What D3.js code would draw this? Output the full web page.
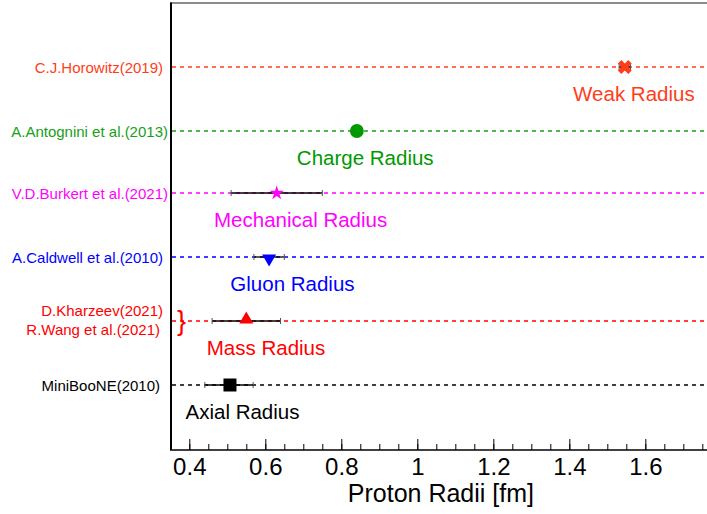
<!DOCTYPE html>
<html>
<head>
<meta charset="utf-8">
<script src="https://cdn.jsdelivr.net/npm/d3@7"></script>
<style>
  body { margin: 0; background: #fff; }
  svg { display: block; font-family: "Liberation Sans", Arial, sans-serif; }
</style>
</head>
<body>
<div id="chart"></div>
<script>
// measurements, top row first
var refLabels = [
    ["C.J.Horowitz(2019)"],
    ["A.Antognini et al.(2013)"],
    ["V.D.Burkert et al.(2021)"],
    ["A.Caldwell et al.(2010)"],
    ["D.Kharzeev(2021)", "R.Wang et al.(2021)"],
    ["MiniBooNE(2010)"]
];
var radiusNames = ["Weak Radius", "Charge Radius", "Mechanical Radius", "Gluon Radius", "Mass Radius", "Axial Radius"];
var radiusValues = [1.546, 0.8409, 0.63, 0.61, 0.55, 0.507];
var errLow = [0.015, 0, 0.12, 0.04, 0.09, 0.066];
var errHigh = [0.015, 0, 0.12, 0.04, 0.09, 0.061];
var majorTicks = [0.4, 0.6, 0.8, 1.0, 1.2, 1.4, 1.6];

// styling / layout
var rowColors = ["#ff3d1a", "#17a017", "#ff00ff", "#0000ff", "#ff0000", "#000000"];
var markerColors = ["#ff3d1a", "#009900", "#ff00ff", "#0000ff", "#ff0000", "#000000"];
var markerTypes = ["x", "circle", "star", "down", "up", "square"];
var refEnd = [163, 168, 168, 163, 163, 160];
var nameX = [1.41, 0.683, 0.465, 0.508, 0.446, 0.39];

var width = 707, height = 514;
var svg = d3.select("#chart").append("svg")
    .attr("width", width)
    .attr("height", height);

var x = d3.scaleLinear().domain([0.35, 1.7623]).range([170.3, 707]);
var yPt = d3.scalePoint().domain(d3.range(radiusNames.length)).range([66, 384]);
// snap each row to an odd pixel line so thin coloured dashes stay crisp
var y = function (i) { var r = Math.round(yPt(i)); return r % 2 ? r : r + 1; };
var axisY = 450;

// dashed guide lines
svg.selectAll(".guide")
    .data(radiusNames)
    .enter()
    .append("line")
    .attr("class", "guide")
    .attr("x1", 172)
    .attr("x2", width)
    .attr("y1", function (d, i) { return y(i); })
    .attr("y2", function (d, i) { return y(i); })
    .attr("stroke", function (d, i) { return rowColors[i]; })
    .attr("stroke-width", 1.3)
    .attr("stroke-dasharray", "4,4");

// error bars
var rows = radiusNames.map(function (d, i) {
    return { i: i, v: radiusValues[i], lo: radiusValues[i] - errLow[i], hi: radiusValues[i] + errHigh[i] };
}).filter(function (d) { return d.hi > d.lo; });

var eb = svg.selectAll(".err").data(rows).enter().append("g").attr("class", "err");
eb.append("line")
    .attr("x1", function (d) { return x(d.lo); })
    .attr("x2", function (d) { return x(d.hi); })
    .attr("y1", function (d) { return y(d.i); })
    .attr("y2", function (d) { return y(d.i); })
    .attr("stroke", "#000")
    .attr("stroke-width", 1.3);
["lo", "hi"].forEach(function (k) {
    eb.append("line")
        .attr("x1", function (d) { return x(d[k]); })
        .attr("x2", function (d) { return x(d[k]); })
        .attr("y1", function (d) { return y(d.i) - 3; })
        .attr("y2", function (d) { return y(d.i) + 3; })
        .attr("stroke", "#555")
        .attr("stroke-width", 1);
});

// markers
var symbolFor = function (t) {
    switch (t) {
        case "x": return d3.symbol(d3.symbolCross, 120)();
        case "circle": return d3.symbol(d3.symbolCircle, 150)();
        case "star": return d3.symbol(d3.symbolStar, 65)();
        case "down":
        case "up": return d3.symbol(d3.symbolTriangle, 85)();
        default: return d3.symbol(d3.symbolSquare, 169)();
    }
};
var rotFor = function (t) {
    if (t === "x") return 45;
    if (t === "down") return 180;
    return 0;
};
svg.selectAll(".marker")
    .data(radiusValues)
    .enter()
    .append("path")
    .attr("class", "marker")
    .attr("d", function (d, i) { return symbolFor(markerTypes[i]); })
    .attr("transform", function (d, i) {
        var t = markerTypes[i];
        var dy = t === "up" ? -1.5 : (t === "down" ? 1.5 : 0);
        return "translate(" + x(d) + "," + (y(i) + dy) + ") rotate(" + rotFor(t) + ")";
    })
    .attr("fill", function (d, i) { return markerColors[i]; });

// radius names under each row
svg.selectAll(".rname")
    .data(radiusNames)
    .enter()
    .append("text")
    .attr("class", "rname")
    .attr("x", function (d, i) { return x(nameX[i]); })
    .attr("y", function (d, i) { return y(i) + 34; })
    .attr("font-size", 20.5)
    .attr("fill", function (d, i) { return markerColors[i]; })
    .text(function (d) { return d; });

// reference labels on the left
refLabels.forEach(function (lines, i) {
    var g = svg.append("g");
    lines.forEach(function (s, j) {
        var base = lines.length === 1 ? y(i) + 5.5 : y(i) - 5 + j * 18.5;
        g.append("text")
            .attr("x", lines.length === 1 ? refEnd[i] : refEnd[i] - j * 3)
            .attr("y", base)
            .attr("text-anchor", "end")
            .attr("font-size", 15)
            .attr("fill", rowColors[i])
            .text(s);
    });
    if (lines.length > 1) {
        svg.append("text")
            .attr("x", 181.5)
            .attr("y", y(i) + 9)
            .attr("text-anchor", "middle")
            .attr("font-size", 27)
            .attr("fill", markerColors[i])
            .text("}");
    }
});

// frame
svg.append("line")
    .attr("x1", 170).attr("x2", width)
    .attr("y1", 3).attr("y2", 3)
    .attr("stroke", "#666").attr("stroke-width", 1.5);
svg.append("line")
    .attr("x1", 171).attr("x2", 171)
    .attr("y1", 2.5).attr("y2", axisY)
    .attr("stroke", "#000").attr("stroke-width", 2);

// x axis: minor ticks then major ticks with labels
var minorTicks = d3.range(0.35, 1.76, 0.05).map(function (v) { return +v.toFixed(2); });
svg.append("g")
    .attr("transform", "translate(0," + axisY + ")")
    .call(d3.axisBottom(x).tickValues(minorTicks).tickSizeInner(-6).tickSizeOuter(0).tickFormat(""))
    .call(function (g) { g.select(".domain").remove(); });

var ax = svg.append("g")
    .attr("transform", "translate(0," + axisY + ")")
    .call(d3.axisBottom(x).tickValues(majorTicks).tickSizeInner(-11).tickSizeOuter(0).tickFormat(d3.format("")));
ax.select(".domain").remove();
ax.selectAll("text")
    .attr("y", 25)
    .attr("dy", 0)
    .attr("font-size", 24)
    .attr("font-family", "Liberation Sans, Arial, sans-serif")
    .attr("fill", "#000");
svg.selectAll(".tick line").attr("stroke", "#000");

svg.append("line")
    .attr("x1", 170).attr("x2", width)
    .attr("y1", axisY).attr("y2", axisY)
    .attr("stroke", "#000").attr("stroke-width", 1.5);

svg.append("text")
    .attr("x", 534)
    .attr("y", 502)
    .attr("text-anchor", "end")
    .attr("font-size", 25)
    .attr("fill", "#000")
    .text("Proton Radii [fm]");
</script>
</body>
</html>
